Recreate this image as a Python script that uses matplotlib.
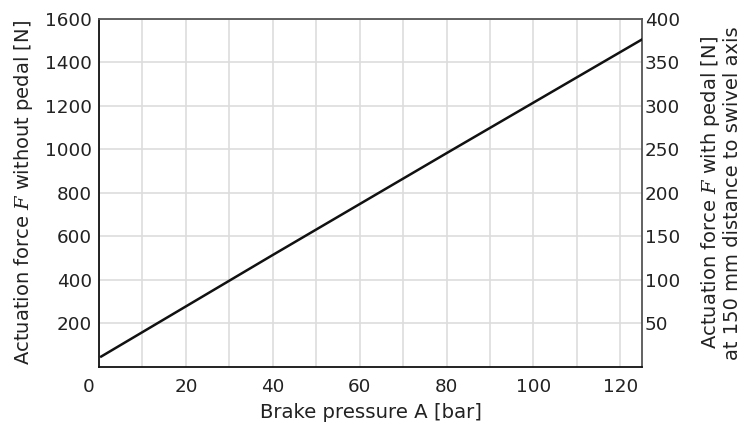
import numpy as np
import matplotlib
matplotlib.use("Agg")
import matplotlib.pyplot as plt
from matplotlib.transforms import ScaledTranslation

# data
pressure = [0.5, 40, 80, 125]          # bar
force = [48, 515, 983, 1506]           # N, without pedal
x_ticks = [0, 20, 40, 60, 80, 100, 120]
y_ticks = [200, 400, 600, 800, 1000, 1200, 1400, 1600]
y2_ticks = [50, 100, 150, 200, 250, 300, 350, 400]

plt.rcParams['font.family'] = ['DejaVu Sans']
plt.rcParams['mathtext.fontset'] = 'dejavuserif'
plt.rcParams['font.size'] = 13.2

fig = plt.figure(figsize=(7.46, 4.23), dpi=100)
ax = fig.add_axes([0.1327, 0.1324, 0.7279, 0.8227])

ax.plot(pressure, force, color='#111111', lw=1.8, zorder=3)

ax.set_xlim(0, 125)
ax.set_ylim(0, 1600)
ax.set_xticks(x_ticks)
ax.set_yticks(y_ticks)
ax.set_xticks(np.arange(10, 125, 10), minor=True)
ax.grid(True, which='both', color='#dddddd', lw=1.2)
ax.set_axisbelow(True)
ax.tick_params(axis='both', which='both', length=0, colors='#222222')
ax.tick_params(axis='x', pad=8)
ax.tick_params(axis='y', pad=5)

# corner "0" label sits left of the axis origin
lbl = ax.get_xticklabels()[0]
lbl.set_transform(lbl.get_transform() + ScaledTranslation(-0.1, 0, fig.dpi_scale_trans))

for s in ['left', 'bottom']:
    ax.spines[s].set_color('#111111')
    ax.spines[s].set_linewidth(1.3)
for s in ['top', 'right']:
    ax.spines[s].set_color('#555555')
    ax.spines[s].set_linewidth(1.3)

ax.set_xlabel('Brake pressure A [bar]', color='#222222', fontsize=14.2, labelpad=5)
ax.set_ylabel('Actuation force $F$ without pedal [N]', color='#222222',
              fontsize=14, labelpad=7)

ax2 = ax.twinx()
ax2.set_ylim(0, 400)
ax2.set_yticks(y2_ticks)
ax2.tick_params(axis='y', length=0, pad=2, colors='#222222')
for s in ax2.spines.values():
    s.set_visible(False)
ax2.set_ylabel('Actuation force $F$ with pedal [N]\nat 150 mm distance to swivel axis',
               color='#222222', fontsize=14, labelpad=14, linespacing=1.05)

plt.savefig('out.png', dpi=100)
